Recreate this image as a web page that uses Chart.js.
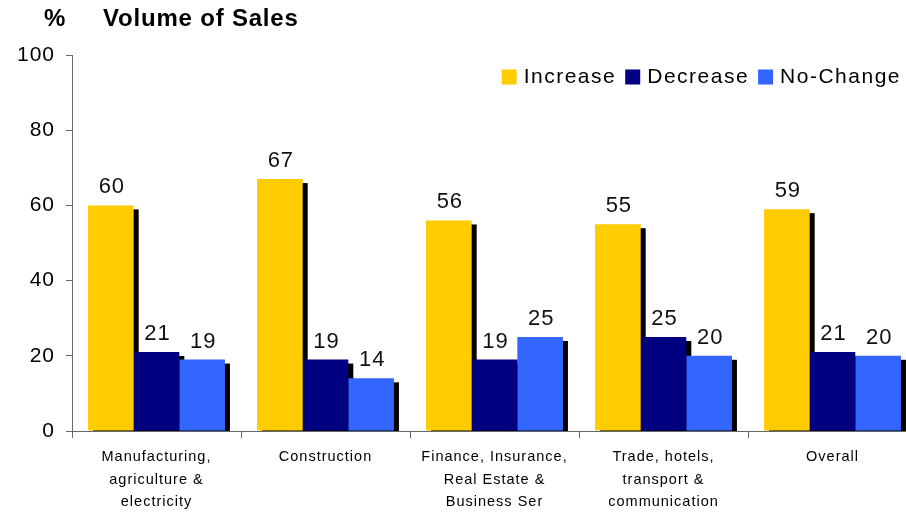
<!DOCTYPE html>
<html>
<head>
<meta charset="utf-8">
<script src="https://cdn.jsdelivr.net/npm/chart.js@4/dist/chart.umd.min.js"></script>
<style>
  html, body { margin: 0; padding: 0; background: #fff; overflow: hidden; }
  #wrap { width: 906px; height: 512px; overflow: hidden; }
  #salesChart { display: block; }
</style>
</head>
<body>
<div id="wrap"><canvas id="salesChart" width="918" height="512"></canvas></div>
<script>
const categories = [
    ['Manufacturing,', 'agriculture &', 'electricity'],
    ['Construction'],
    ['Finance, Insurance,', 'Real Estate &', 'Business Ser'],
    ['Trade, hotels,', 'transport &', 'communication'],
    ['Overall'],
];
const increase = [60, 67, 56, 55, 59];
const decrease = [21, 19, 19, 25, 21];
const noChange = [19, 14, 25, 20, 20];
const yTicks = [0, 20, 40, 60, 80, 100];

const FONT = '"Liberation Sans", Arial, sans-serif';

// the source chart spaces its letters a little wider
const spacing = {
    id: 'spacing',
    beforeDraw(chart) {
        chart.ctx.letterSpacing = '1px';
    },
};

// black drop shadow behind every bar, drawn before the bars themselves
const barShadow = {
    id: 'barShadow',
    beforeDatasetsDraw(chart) {
        const { ctx, chartArea } = chart;
        ctx.save();
        ctx.beginPath();
        ctx.rect(chartArea.left, chartArea.top, chartArea.right - chartArea.left, chartArea.bottom - chartArea.top);
        ctx.clip();
        ctx.fillStyle = '#000';
        chart.data.datasets.forEach((ds, i) => {
            chart.getDatasetMeta(i).data.forEach((bar) => {
                const w = bar.width;
                ctx.fillRect(bar.x - w / 2 + 5, bar.y + 4, w, bar.base - bar.y);
            });
        });
        ctx.restore();
    },
};

const valueLabels = {
    id: 'valueLabels',
    afterDatasetsDraw(chart) {
        const { ctx } = chart;
        ctx.save();
        ctx.font = '22px ' + FONT;
        ctx.letterSpacing = '1px';
        ctx.fillStyle = '#111';
        ctx.textAlign = 'center';
        ctx.textBaseline = 'alphabetic';
        chart.data.datasets.forEach((ds, i) => {
            chart.getDatasetMeta(i).data.forEach((bar, j) => {
                ctx.fillText(String(ds.data[j]), bar.x + 1, bar.y - 12);
            });
        });
        ctx.restore();
    },
};

// legend in the top-right corner of the visible plot, one row
const topLegend = {
    id: 'topLegend',
    afterDraw(chart) {
        const { ctx } = chart;
        ctx.save();
        ctx.font = '21px ' + FONT;
        ctx.letterSpacing = '1.5px';
        ctx.textBaseline = 'middle';
        ctx.textAlign = 'left';
        const box = 15;
        const gap = 7;
        const sep = 9;
        const y = 77;
        const items = chart.data.datasets.map((ds) => ({
            text: ds.label,
            color: ds.backgroundColor,
            w: ctx.measureText(ds.label).width,
        }));
        const total = items.reduce((s, it) => s + box + gap + it.w, 0) + sep * (items.length - 1);
        let x = 901 - total;
        items.forEach((it) => {
            ctx.fillStyle = it.color;
            ctx.fillRect(x, y - box / 2, box, box);
            x += box + gap;
            ctx.fillStyle = '#000';
            ctx.fillText(it.text, x, y);
            x += it.w + sep;
        });
        ctx.restore();
    },
};

const heading = {
    id: 'heading',
    afterDraw(chart) {
        const { ctx } = chart;
        ctx.save();
        ctx.font = 'bold 24px ' + FONT;
        ctx.letterSpacing = '0.8px';
        ctx.fillStyle = '#000';
        ctx.textBaseline = 'middle';
        ctx.fillText('%', 44, 19);
        ctx.fillText('Volume of Sales', 103, 19);
        ctx.restore();
    },
};

new Chart(document.getElementById('salesChart'), {
    type: 'bar',
    data: {
        labels: categories,
        datasets: [
            { label: 'Increase', data: increase, backgroundColor: '#FFCC00' },
            { label: 'Decrease', data: decrease, backgroundColor: '#000080' },
            { label: 'No-Change', data: noChange, backgroundColor: '#3366FF' },
        ],
    },
    options: {
        responsive: false,
        animation: false,
        layout: { padding: { top: 55, right: 1, left: 0, bottom: 0 } },
        datasets: {
            bar: { categoryPercentage: 0.81, barPercentage: 1.0 },
        },
        plugins: {
            legend: { display: false },
            tooltip: { enabled: false },
        },
        scales: {
            x: {
                grid: {
                    offset: true,
                    drawOnChartArea: false,
                    drawTicks: true,
                    tickLength: 7,
                    color: '#666',
                },
                border: { color: '#666' },
                ticks: {
                    color: '#000',
                    padding: 8,
                    maxRotation: 0,
                    autoSkip: false,
                    font: { size: 14.5, family: FONT, lineHeight: 1.55 },
                },
                afterFit(scale) { scale.height = 81; },
            },
            y: {
                min: 0,
                max: 100,
                afterBuildTicks(scale) { scale.ticks = yTicks.map((v) => ({ value: v })); },
                grid: {
                    drawOnChartArea: false,
                    drawTicks: true,
                    tickLength: 6,
                    color: '#666',
                },
                border: { color: '#666' },
                ticks: {
                    color: '#000',
                    padding: 11,
                    font: { size: 21, family: FONT },
                },
                afterFit(scale) { scale.width = 72; },
            },
        },
    },
    plugins: [spacing, barShadow, valueLabels, topLegend, heading],
});
</script>
</body>
</html>
